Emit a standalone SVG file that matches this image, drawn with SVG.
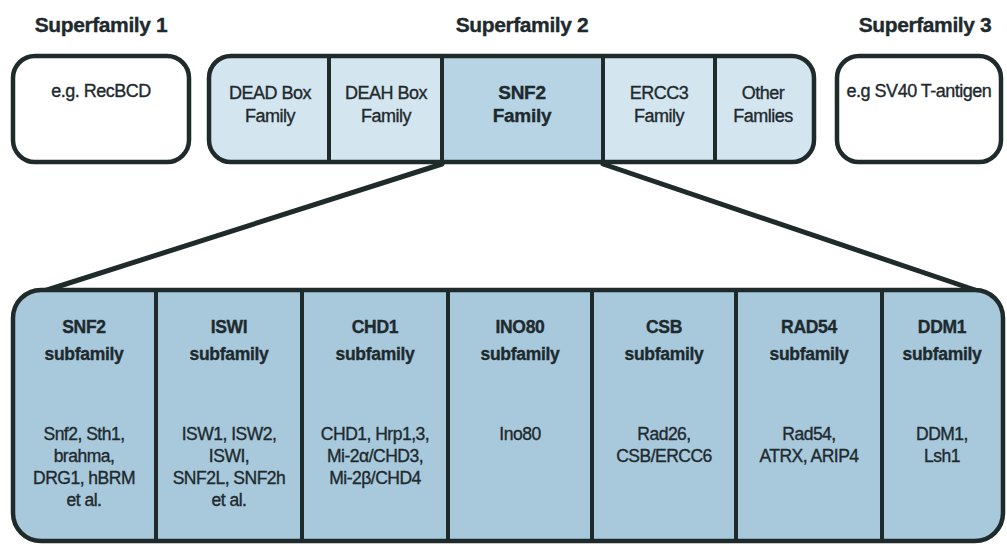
<svg xmlns="http://www.w3.org/2000/svg" width="1007" height="546" viewBox="0 0 1007 546">
<style>
.box{stroke:#1f2b2b;stroke-width:4.5;}
.div{stroke:#1f2b2b;stroke-width:4;}
.t{font-family:"Liberation Sans",Arial,sans-serif;fill:#1e2a2e;stroke:#1e2a2e;stroke-width:0.35px;text-anchor:middle;}
.sf{font-size:21px;font-weight:bold;letter-spacing:-0.4px;}
.c{font-size:18px;letter-spacing:-0.5px;}
.cb{font-size:19px;font-weight:bold;letter-spacing:-0.3px;}
.h{font-size:17.5px;font-weight:bold;letter-spacing:-0.3px;}
.i{font-size:17.5px;letter-spacing:-0.5px;}
.conn{stroke:#1f2b2b;stroke-width:5;fill:none;stroke-linecap:round;}
</style>
<rect width="1007" height="546" fill="#ffffff"/>

<g id="labels">
<text class="t sf" x="101" y="32">Superfamily 1</text>
<text class="t sf" x="522" y="32">Superfamily 2</text>
<text class="t sf" x="925" y="32">Superfamily 3</text>
</g>

<g id="connectors">
<path class="conn" d="M442,164 L44,291"/>
<path class="conn" d="M603,164 L975,290"/>
</g>

<g id="superfamily1">
<rect class="box" x="13" y="56" width="176" height="106" rx="22" fill="#ffffff"/>
<text class="t c" x="101" y="97">e.g. RecBCD</text>
</g>

<g id="superfamily2">
<rect x="209" y="56" width="605" height="106" rx="22" fill="#d3e5ee"/>
<rect x="442" y="56" width="161" height="106" fill="#b7d4e5"/>
<line class="div" x1="329" y1="56" x2="329" y2="162"/>
<line class="div" x1="442" y1="56" x2="442" y2="162"/>
<line class="div" x1="603" y1="56" x2="603" y2="162"/>
<line class="div" x1="715" y1="56" x2="715" y2="162"/>
<rect class="box" x="209" y="56" width="605" height="106" rx="22" fill="none"/>
</g>
<g id="dead-box">
<text class="t c" x="270" y="99">DEAD Box</text>
<text class="t c" x="270" y="122">Family</text>
</g>
<g id="deah-box">
<text class="t c" x="386" y="99">DEAH Box</text>
<text class="t c" x="386" y="122">Family</text>
</g>
<g id="snf2-family">
<text class="t cb" x="522" y="99">SNF2</text>
<text class="t cb" x="522" y="122">Family</text>
</g>
<g id="ercc3">
<text class="t c" x="659" y="99">ERCC3</text>
<text class="t c" x="659" y="122">Family</text>
</g>
<g id="other">
<text class="t c" x="763" y="99">Other</text>
<text class="t c" x="763" y="122">Famlies</text>
</g>

<g id="superfamily3">
<rect class="box" x="837" y="56" width="164" height="106" rx="22" fill="#ffffff"/>
<text class="t c" x="919" y="97">e.g SV40 T-antigen</text>
</g>

<g id="subfamilies">
<rect x="13" y="290" width="990" height="251" rx="28" fill="#a8c8db"/>
<line class="div" x1="156" y1="290" x2="156" y2="541"/>
<line class="div" x1="302" y1="290" x2="302" y2="541"/>
<line class="div" x1="448" y1="290" x2="448" y2="541"/>
<line class="div" x1="592" y1="290" x2="592" y2="541"/>
<line class="div" x1="736" y1="290" x2="736" y2="541"/>
<line class="div" x1="882" y1="290" x2="882" y2="541"/>
<rect class="box" x="13" y="290" width="990" height="251" rx="28" fill="none"/>
</g>

<g id="snf2-sub">
<text class="t h" x="84" y="333">SNF2</text>
<text class="t h" x="84" y="360">subfamily</text>
<text class="t i" x="84" y="440">Snf2, Sth1,</text>
<text class="t i" x="84" y="462">brahma,</text>
<text class="t i" x="84" y="484">DRG1, hBRM</text>
<text class="t i" x="84" y="506">et al.</text>
</g>
<g id="iswi-sub">
<text class="t h" x="229" y="333">ISWI</text>
<text class="t h" x="229" y="360">subfamily</text>
<text class="t i" x="229" y="440">ISW1, ISW2,</text>
<text class="t i" x="229" y="462">ISWI,</text>
<text class="t i" x="229" y="484">SNF2L, SNF2h</text>
<text class="t i" x="229" y="506">et al.</text>
</g>
<g id="chd1-sub">
<text class="t h" x="375" y="333">CHD1</text>
<text class="t h" x="375" y="360">subfamily</text>
<text class="t i" x="375" y="440">CHD1, Hrp1,3,</text>
<text class="t i" x="375" y="462">Mi-2α/CHD3,</text>
<text class="t i" x="375" y="484">Mi-2β/CHD4</text>
</g>
<g id="ino80-sub">
<text class="t h" x="520" y="333">INO80</text>
<text class="t h" x="520" y="360">subfamily</text>
<text class="t i" x="520" y="440">Ino80</text>
</g>
<g id="csb-sub">
<text class="t h" x="664" y="333">CSB</text>
<text class="t h" x="664" y="360">subfamily</text>
<text class="t i" x="664" y="440">Rad26,</text>
<text class="t i" x="664" y="462">CSB/ERCC6</text>
</g>
<g id="rad54-sub">
<text class="t h" x="809" y="333">RAD54</text>
<text class="t h" x="809" y="360">subfamily</text>
<text class="t i" x="809" y="440">Rad54,</text>
<text class="t i" x="809" y="462">ATRX, ARIP4</text>
</g>
<g id="ddm1-sub">
<text class="t h" x="942" y="333">DDM1</text>
<text class="t h" x="942" y="360">subfamily</text>
<text class="t i" x="942" y="440">DDM1,</text>
<text class="t i" x="942" y="462">Lsh1</text>
</g>
</svg>
